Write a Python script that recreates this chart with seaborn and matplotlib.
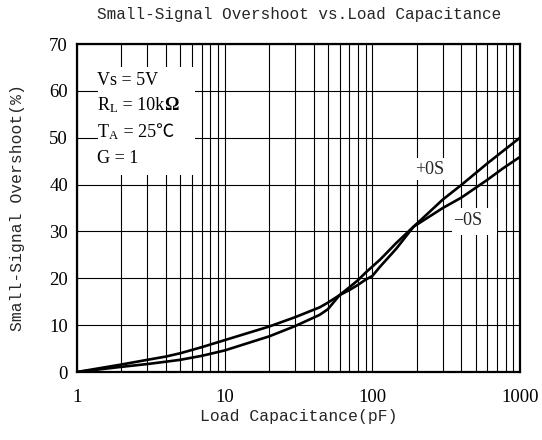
import numpy as np
import pandas as pd
import matplotlib
matplotlib.use("Agg")
import matplotlib.pyplot as plt
import matplotlib.ticker as mticker
from matplotlib.patches import Rectangle
from matplotlib.offsetbox import TextArea, HPacker, AnnotationBbox
import seaborn as sns

# values
cap_pos = [1, 2, 3, 4, 5, 7, 10, 20, 30, 44, 50, 60, 70, 80, 90, 100, 113, 146, 190, 300, 400, 600, 770, 1000]
os_pos = [0, 1.6, 2.6, 3.3, 4.0, 5.3, 6.8, 9.7, 11.7, 13.8, 14.8, 16.4, 17.5, 18.6, 19.7, 20.5, 22.5, 26.4, 31.0, 36.8, 39.9, 44.5, 47.2, 50.0]

cap_neg = [1, 2, 3, 4, 5, 7, 10, 20, 30, 44, 50, 60, 70, 80, 90, 100, 113, 146, 190, 300, 400, 600, 770, 1000]
os_neg = [0, 1.1, 1.7, 2.2, 2.6, 3.45, 4.6, 7.6, 9.8, 12.2, 13.4, 16.4, 18.1, 19.6, 21.2, 22.5, 24.0, 27.6, 31.0, 35.0, 37.2, 41.0, 43.5, 45.9]

x_ticks = [1, 10, 100, 1000]
x_labels = ["1", "10", "100", "1000"]
y_ticks = [0, 10, 20, 30, 40, 50, 60, 70]

df = pd.concat([
    pd.DataFrame({"cap": cap_pos, "os": os_pos, "curve": "+OS"}),
    pd.DataFrame({"cap": cap_neg, "os": os_neg, "curve": "-OS"}),
])

sns.set_style("white")
plt.rcParams["font.family"] = ["Liberation Serif", "Noto Sans CJK SC", "DejaVu Sans"]
plt.rcParams["mathtext.fontset"] = "custom"
plt.rcParams["mathtext.rm"] = "Liberation Serif"
plt.rcParams["mathtext.it"] = "Liberation Serif:italic"
plt.rcParams["mathtext.bf"] = "Liberation Serif:bold"

mono = ["Liberation Mono", "DejaVu Sans Mono"]
serif = ["Liberation Serif", "Noto Sans CJK SC", "DejaVu Sans"]

fig = plt.figure(figsize=(5.42, 4.4), dpi=100)
ax = fig.add_axes([77 / 542, 1 - 372 / 440, 443 / 542, 328 / 440])

sns.lineplot(data=df, x="cap", y="os", hue="curve",
             palette={"+OS": "black", "-OS": "black"},
             estimator=None, sort=False, linewidth=1.9, legend=False, ax=ax, zorder=3)

ax.set_xscale("log")
ax.set_xlim(1, 1000)
ax.set_ylim(0, 70)
ax.set_xticks(x_ticks)
ax.set_xticklabels(x_labels)
ax.xaxis.set_minor_locator(mticker.LogLocator(base=10, subs=np.arange(2, 10)))
ax.xaxis.set_minor_formatter(mticker.NullFormatter())
ax.set_yticks(y_ticks)

ax.set_axisbelow(True)
ax.grid(True, which="both", axis="x", color="black", linewidth=0.8)
ax.grid(True, which="major", axis="y", color="black", linewidth=0.8)

for s in ax.spines.values():
    s.set_linewidth(1.6)
    s.set_color("black")
    s.set_zorder(5)

ax.tick_params(which="both", length=0, labelsize=13.5, colors="black")
ax.tick_params(axis="x", pad=12)
ax.tick_params(axis="y", pad=6.5)

ax.set_xlabel("Load Capacitance(pF)", family=mono, fontsize=11.8)
ax.set_ylabel("Small-Signal Overshoot(%)", family=mono, fontsize=11.8)
ax.xaxis.set_label_coords(0.5, -0.112)
ax.yaxis.set_label_coords(-0.117, 0.5)

fig.text(0.551, 1 - 15 / 440, "Small-Signal Overshoot vs.Load Capacitance",
         family=mono, fontsize=11.5, ha="center", va="center")

# white boxes behind the labels
ax.add_patch(Rectangle((0.047, 0.601), 0.219, 0.329, transform=ax.transAxes,
                       facecolor="white", edgecolor="none", zorder=1.5))
ax.add_patch(Rectangle((0.758, 0.585), 0.073, 0.067, transform=ax.transAxes,
                       facecolor="white", edgecolor="none", zorder=1.5))
ax.add_patch(Rectangle((0.847, 0.418), 0.101, 0.082, transform=ax.transAxes,
                       facecolor="white", edgecolor="none", zorder=1.5))

fs = 13
def txt(s, **kw):
    props = dict(family=serif, fontsize=fs, color="black")
    props.update(kw)
    return TextArea(s, textprops=props)

cond_lines = [
    [txt("Vs = 5V")],
    [txt(r"R$_{\mathrm{L}}$"), txt(" = 10k"), txt("Ω", fontweight="bold")],
    [txt(r"T$_{\mathrm{A}}$"), txt(" = 25℃")],
    [txt("G = 1")],
]
cond_y = [0.890, 0.814, 0.732, 0.652]
for parts, yc in zip(cond_lines, cond_y):
    box = HPacker(children=parts, align="baseline", pad=0, sep=0)
    ab = AnnotationBbox(box, (0.045, yc), xycoords="axes fraction",
                        box_alignment=(0, 0.5), frameon=False, pad=0, zorder=4)
    ax.add_artist(ab)

ax.text(0.795, 0.618, "+0S", transform=ax.transAxes, family=serif, fontsize=fs,
        ha="center", va="center", zorder=4)
ax.text(0.882, 0.463, "−0S", transform=ax.transAxes, family=serif, fontsize=fs,
        ha="center", va="center", zorder=4)

fig.savefig("out.png", dpi=100)
